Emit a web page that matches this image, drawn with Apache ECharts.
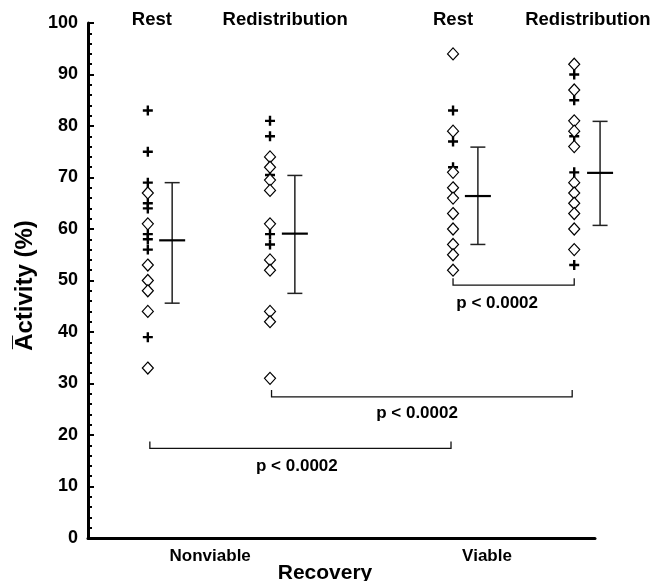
<!DOCTYPE html>
<html>
<head>
<meta charset="utf-8">
<script src="https://cdn.jsdelivr.net/npm/echarts@6/dist/echarts.min.js"></script>
<style>html,body{margin:0;padding:0;background:#fff;}#chart{width:652px;height:581px;}</style>
</head>
<body>
<div id="chart"></div>
<script>
// ---- data ----
const groupLabels = ['Rest', 'Redistribution', 'Rest', 'Redistribution'];
const groupLabelX = [12.6, 38.9, 72.0, 98.6];
const categories = ['Nonviable', 'Viable'];
const categoryX = [24.1, 78.7];
const pointX = [11.8, 35.9, 72.0, 95.9];
const barX = [16.6, 40.8, 76.9, 101.0];

const nvRestPlus = [83, 75, 69, 65, 64, 59, 58, 56, 39];
const nvRestDiamond = [67, 61, 53, 50, 48, 44, 33];
const nvRedistPlus = [81, 78, 70.5, 59, 57];
const nvRedistDiamond = [74, 72, 69.5, 67.5, 61, 54, 52, 44, 42, 31];
const vRestPlus = [83, 77, 72];
const vRestDiamond = [94, 79, 71, 68, 66, 63, 60, 57, 55, 52];
const vRedistPlus = [90, 85, 78, 71, 53];
const vRedistDiamond = [92, 87, 81, 79, 76, 69, 67, 65, 63, 60, 56];

const means = [57.8, 59.1, 66.4, 70.9];
const upper = [69.0, 70.4, 75.9, 80.9];
const lower = [45.6, 47.5, 57.0, 60.7];

const brackets = [[72.0, 95.9, 49.1], [36.2, 95.5, 27.4], [12.2, 71.6, 17.4]];
const bracketLabelPos = [[80.7, 45.6], [64.9, 24.2], [41.2, 13.9]];
const pLabel = 'p < 0.0002';
const yTicks = [0, 100, 10];

// ---- chart ----
const FONT = 'Liberation Sans, Arial, sans-serif';
const plusPath = 'path://M3.8,0h2.4v3.8h3.8v2.4h-3.8v3.8h-2.4v-3.8h-3.8v-2.4h3.8z';
const plusData = [nvRestPlus, nvRedistPlus, vRestPlus, vRedistPlus];
const diamondData = [nvRestDiamond, nvRedistDiamond, vRestDiamond, vRedistDiamond];

const series = [];
for (let g = 0; g < 4; g++) {
  series.push({
    type: 'scatter', clip: false, symbol: plusPath, symbolSize: 10,
    itemStyle: { color: '#000', opacity: 1 }, z: 3,
    data: plusData[g].map(v => [pointX[g], v])
  });
  series.push({
    type: 'scatter', clip: false, symbol: 'diamond', symbolSize: [11, 12],
    itemStyle: { color: '#fff', borderColor: '#000', borderWidth: 1.2, opacity: 1 }, z: 4,
    data: diamondData[g].map(v => [pointX[g], v])
  });
}
// error bars
series.push({
  type: 'custom', clip: false, z: 5,
  data: barX.map((x, i) => [x, lower[i], upper[i], means[i]]),
  renderItem: function (params, api) {
    const x = api.value(0);
    const lo = api.coord([x, api.value(1)]);
    const hi = api.coord([x, api.value(2)]);
    const m = api.coord([x, api.value(3)]);
    const cap = 7.5, mw = 13;
    return {
      type: 'group', children: [
        { type: 'line', shape: { x1: lo[0], y1: lo[1], x2: hi[0], y2: hi[1] }, style: { stroke: '#222', lineWidth: 1.5 } },
        { type: 'line', shape: { x1: lo[0] - cap, y1: lo[1], x2: lo[0] + cap, y2: lo[1] }, style: { stroke: '#222', lineWidth: 1.5 } },
        { type: 'line', shape: { x1: hi[0] - cap, y1: hi[1], x2: hi[0] + cap, y2: hi[1] }, style: { stroke: '#222', lineWidth: 1.5 } },
        { type: 'line', shape: { x1: m[0] - mw, y1: m[1], x2: m[0] + mw, y2: m[1] }, style: { stroke: '#000', lineWidth: 2.2 } }
      ]
    };
  }
});
// brackets
series.push({
  type: 'custom', clip: false, z: 2,
  data: brackets,
  renderItem: function (params, api) {
    const a = api.coord([api.value(0), api.value(2)]);
    const b = api.coord([api.value(1), api.value(2)]);
    const h = 7;
    return {
      type: 'polyline',
      shape: { points: [[a[0], a[1] - h], [a[0], a[1]], [b[0], b[1]], [b[0], b[1] - h]] },
      style: { stroke: '#111', lineWidth: 1.3, fill: null }
    };
  }
});
const labelStyle = (size, offset) => ({
  show: true, position: 'inside', offset: offset, formatter: '{b}', color: '#000',
  fontFamily: FONT, fontWeight: 'bold', fontSize: size
});
// bracket labels
series.push({
  type: 'scatter', clip: false, symbolSize: 0, silent: true, itemStyle: { opacity: 1 },
  data: bracketLabelPos.map(p => ({ value: p, name: pLabel })),
  label: labelStyle(17, [0, 0])
});
// group labels at top
series.push({
  type: 'scatter', clip: false, symbolSize: 0, silent: true, itemStyle: { opacity: 1 },
  data: groupLabels.map((n, i) => ({ value: [groupLabelX[i], 100], name: n })),
  label: labelStyle(18.5, [0, -3])
});
// category labels under the x axis
series.push({
  type: 'scatter', clip: false, symbolSize: 0, silent: true, itemStyle: { opacity: 1 },
  data: categories.map((n, i) => ({ value: [categoryX[i], 0], name: n })),
  label: labelStyle(17, [0, 18])
});

const chart = echarts.init(document.getElementById('chart'), null, { renderer: 'canvas' });
chart.setOption({
  animation: false,
  backgroundColor: '#fff',
  grid: { left: 88, right: 57, top: 23, bottom: 43, containLabel: false, outerBoundsMode: 'none' },
  xAxis: {
    type: 'value', min: 0, max: 100,
    name: 'Recovery', nameLocation: 'middle', nameGap: 25,
    nameTextStyle: { color: '#000', fontFamily: FONT, fontWeight: 'bold', fontSize: 21, padding: [0, 33, 0, 0] },
    axisLine: { show: true, lineStyle: { color: '#000', width: 3 } },
    axisTick: { show: false }, axisLabel: { show: false }, splitLine: { show: false }
  },
  yAxis: {
    type: 'value', min: yTicks[0], max: yTicks[1], interval: yTicks[2],
    name: 'A\u0305ctivity (%)', nameLocation: 'middle', nameGap: 50, nameRotate: 90,
    nameTextStyle: { color: '#000', fontFamily: FONT, fontWeight: 'bold', fontSize: 24, padding: [0, 10, 0, 0] },
    axisLine: { show: true, onZero: false, lineStyle: { color: '#000', width: 3 } },
    axisTick: { show: true, inside: true, length: 6, lineStyle: { color: '#000', width: 2 } },
    minorTick: { show: true, splitNumber: 5, length: 4, lineStyle: { color: '#000', width: 2 } },
    axisLabel: { color: '#000', fontFamily: FONT, fontWeight: 'bold', fontSize: 18, margin: 10 },
    splitLine: { show: false }
  },
  series: series
});
</script>
</body>
</html>
